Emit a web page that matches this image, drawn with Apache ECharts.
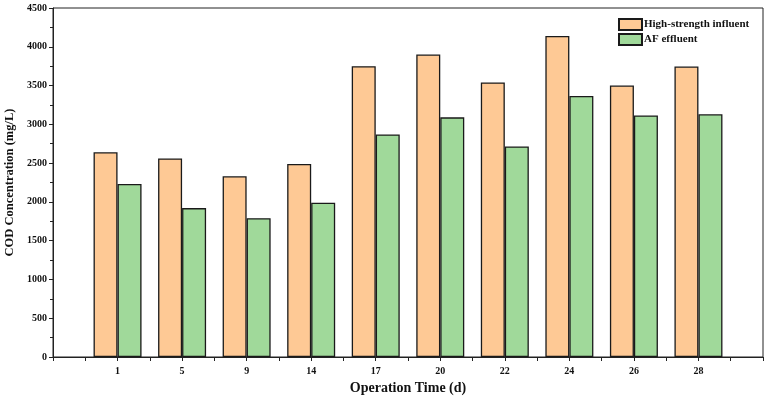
<!DOCTYPE html>
<html>
<head>
<meta charset="utf-8">
<script src="https://cdn.jsdelivr.net/npm/echarts@6/dist/echarts.min.js"></script>
<style>
  html, body { margin: 0; padding: 0; background: #fff; }
  #chart { width: 767px; height: 401px; }
</style>
</head>
<body>
<div id="chart"></div>
<script>
// operation days and COD values (mg/L)
var days = ['1', '5', '9', '14', '17', '20', '22', '24', '26', '28'];
var influent = [2640, 2560, 2330, 2490, 3750, 3900, 3540, 4140, 3500, 3745];
var effluent = [2230, 1920, 1790, 1990, 2870, 3090, 2715, 3365, 3115, 3130];

var font = 'Liberation Serif, Times New Roman, serif';

function toPoints(arr) {
    return arr.map(function (v, i) { return [i + 1, v]; });
}

var chart = echarts.init(document.getElementById('chart'));
chart.setOption({
    animation: false,
    backgroundColor: '#fff',
    grid: {
        left: 53, right: 4, top: 8, bottom: 44,
        containLabel: false,
        outerBoundsMode: 'none',
        show: true, borderColor: '#222', borderWidth: 1
    },
    legend: {
        orient: 'vertical',
        left: 618, top: 18,
        padding: 0,
        itemWidth: 23, itemHeight: 11, itemGap: 2,
        icon: 'rect',
        textStyle: { fontFamily: font, fontWeight: 'bold', fontSize: 11, color: '#111', padding: [0, 0, 0, -3] },
        data: ['High-strength influent', 'AF effluent']
    },
    xAxis: {
        type: 'value',
        min: 0, max: 11, interval: 0.5,
        name: 'Operation Time (d)',
        nameLocation: 'middle',
        nameGap: 24,
        nameTextStyle: { fontFamily: font, fontWeight: 'bold', fontSize: 14, color: '#111' },
        axisLine: { lineStyle: { color: '#222', width: 1 } },
        axisTick: { show: true, length: 4, lineStyle: { color: '#222' } },
        splitLine: { show: false },
        axisLabel: {
            fontFamily: font, fontWeight: 'bold', fontSize: 10, color: '#111', margin: 9,
            formatter: function (v) {
                return (Number.isInteger(v) && v >= 1 && v <= days.length) ? days[v - 1] : '';
            }
        }
    },
    yAxis: {
        type: 'value',
        min: 0, max: 4500, interval: 500,
        name: 'COD Concentration (mg/L)',
        nameLocation: 'middle',
        nameGap: 32,
        nameTextStyle: { fontFamily: font, fontWeight: 'bold', fontSize: 12.5, color: '#111' },
        axisLine: { show: true, lineStyle: { color: '#222', width: 1 } },
        axisTick: { show: true, length: 4, lineStyle: { color: '#222' } },
        minorTick: { show: true, splitNumber: 2, length: 3, lineStyle: { color: '#222' } },
        splitLine: { show: false },
        axisLabel: {
            fontFamily: font, fontWeight: 'bold', fontSize: 10, color: '#111', margin: 6,
            formatter: function (v) { return String(v); }
        }
    },
    series: [
        {
            name: 'High-strength influent',
            type: 'bar',
            barWidth: 24,
            barGap: '0%',
            itemStyle: { color: '#FEC995', borderColor: '#1a1a1a', borderWidth: 1.3 },
            data: toPoints(influent)
        },
        {
            name: 'AF effluent',
            type: 'bar',
            barWidth: 24,
            barGap: '0%',
            itemStyle: { color: '#A0D99A', borderColor: '#1a1a1a', borderWidth: 1.3 },
            data: toPoints(effluent)
        }
    ]
});
</script>
</body>
</html>
